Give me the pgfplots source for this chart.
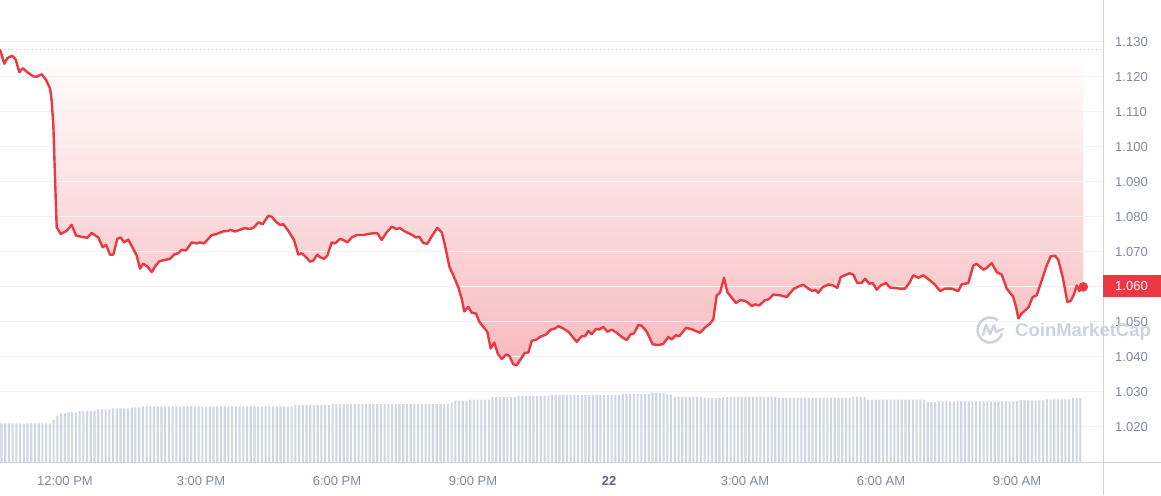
\documentclass[border=0pt]{standalone}
\usepackage{fontspec}
\setmainfont{Liberation Sans}
\usepackage{pgfplots}
\pgfplotsset{compat=1.18}
\usepackage{pgfplotstable}

\definecolor{cmcred}{RGB}{234,57,67}
\definecolor{cmcgray}{RGB}{128,138,157}
\definecolor{cmcdark}{RGB}{88,102,126}
\definecolor{volbar}{RGB}{207,214,228}
\definecolor{gridc}{RGB}{243,243,246}
\definecolor{axisc}{RGB}{207,210,216}
\definecolor{fillbot}{RGB}{247,186,190}
\definecolor{wmark}{RGB}{205,210,221}

% price, x = position along the 24h window (px of the original), y = price
\pgfplotstableread{
x y
0 1.1278
4.3 1.1237
7.3 1.1253
12.3 1.1260
15.7 1.1249
19.3 1.1213
22.7 1.1224
27.3 1.1213
33.3 1.1201
36.7 1.1200
41.7 1.1207
46 1.1191
50 1.1167
51.7 1.1130
53.3 1.1064
55 1.0912
56.7 1.0770
60.7 1.0751
66.7 1.0760
71.7 1.0777
76 1.0746
87.3 1.0740
91.7 1.0754
98.3 1.0741
102.7 1.0713
106 1.0720
110 1.0692
113.3 1.0692
117.3 1.0737
120.7 1.0741
124 1.0727
128.3 1.0735
133.3 1.0708
136.7 1.0689
140 1.0652
143.3 1.0666
147.3 1.0658
151.7 1.0642
155 1.0658
159.3 1.0673
165 1.0677
170 1.0680
174 1.0692
178.3 1.0696
181.7 1.0706
186 1.0704
191.7 1.0727
196.7 1.0724
200 1.0727
204 1.0724
208.3 1.0737
211.7 1.0748
216.7 1.0751
222.7 1.0758
228.3 1.0760
230.7 1.0763
235 1.0758
240 1.0763
245 1.0768
250 1.0765
254 1.0770
258.3 1.0784
262.7 1.0779
268.3 1.0803
271.7 1.0800
276.7 1.0784
280 1.0777
283.3 1.0779
288.3 1.0760
294 1.0734
298.3 1.0692
301.7 1.0696
306 1.0685
310 1.0672
313.3 1.0675
317.3 1.0692
320 1.0685
324 1.0680
327.3 1.0689
331.7 1.0727
335 1.0724
340 1.0737
343.3 1.0734
347.3 1.0727
351.7 1.0741
356.7 1.0748
363.3 1.0748
368.3 1.0751
373.3 1.0753
377.3 1.0753
381.7 1.0734
386 1.0753
391.7 1.0772
396.7 1.0765
400 1.0768
405 1.0758
411.7 1.0749
416 1.0741
419.3 1.0743
423.3 1.0725
427.3 1.0723
433 1.0750
437.3 1.0768
441.7 1.0756
445 1.0718
449.3 1.0658
453.3 1.0633
458.3 1.0599
461.7 1.0566
464.3 1.0530
468.3 1.0543
471.7 1.0526
476 1.0524
479.3 1.0500
483.3 1.0486
487.3 1.0472
490.7 1.0424
494.3 1.0441
497.7 1.0410
501.7 1.0394
506 1.0407
509.3 1.0403
513.3 1.0379
516.7 1.0376
520.7 1.0394
525 1.0412
528.3 1.0412
531.7 1.0446
536.7 1.0450
540 1.0457
546 1.0464
550.7 1.0478
555 1.0481
558.3 1.0488
563.3 1.0481
568.3 1.0472
572.7 1.0457
576.7 1.0443
581.7 1.0459
585 1.0459
588.3 1.0474
591.7 1.0465
596 1.0480
599.3 1.0478
603.3 1.0486
607.3 1.0472
611.7 1.0478
616.7 1.0469
621.7 1.0457
626.7 1.0448
630.7 1.0465
634 1.0467
638.3 1.0491
641.7 1.0489
646.7 1.0472
652.7 1.0436
658.3 1.0434
663.3 1.0437
668.3 1.0457
671.7 1.0450
676 1.0462
679.3 1.0459
686 1.0483
691.7 1.0479
700 1.0469
705 1.0484
710 1.0495
713.3 1.0507
716.7 1.0576
720 1.0583
724 1.0626
727.3 1.0585
730.7 1.0573
736 1.0554
740 1.0562
745 1.0560
748.3 1.0554
751.7 1.0545
755 1.0550
759.3 1.0547
765 1.0562
768.3 1.0564
773.3 1.0578
780 1.0576
786.7 1.0571
794 1.0595
799.3 1.0602
803.3 1.0606
808.3 1.0595
812.7 1.0588
815 1.0592
818.3 1.0583
822.7 1.0599
828.3 1.0607
833.3 1.0604
837.3 1.0597
840.7 1.0628
845 1.0633
849.3 1.0639
853.3 1.0635
857.3 1.0611
861.7 1.0612
865 1.0623
869.3 1.0609
872.7 1.0611
876.7 1.0592
880.7 1.0604
886 1.0611
890 1.0598
895 1.0597
900 1.0595
905 1.0595
909.3 1.0611
913.3 1.0633
918.3 1.0626
923.3 1.0633
930 1.0618
935 1.0606
940 1.0588
945 1.0595
951.7 1.0595
958.3 1.0588
961.7 1.0607
968.3 1.0611
973.3 1.0661
976.7 1.0666
983.3 1.0649
986.7 1.0654
991.7 1.0668
996.7 1.0642
1001.7 1.0635
1006.7 1.0595
1013.3 1.0571
1016 1.0543
1018.3 1.0510
1021.7 1.0524
1028.3 1.0541
1032.7 1.0571
1036.7 1.0576
1041.7 1.0618
1046.7 1.0661
1050.7 1.0687
1055 1.0689
1058.3 1.0677
1062.7 1.0628
1067.3 1.0557
1070.7 1.0560
1074 1.0579
1076.7 1.0604
1079.3 1.0588
1083.3 1.0600
}\price

% volume bars, one per time bin (arbitrary units)
\pgfplotstableread[row sep=\\]{
vol\\
38.7\\38.5\\38.7\\38.7\\38.5\\38.7\\38.2\\38.7\\38.7\\38.5\\38.7\\38.7\\38.5\\38.7\\
42\\46\\48.7\\48.7\\49.7\\49.7\\49.7\\
51\\51\\51\\51\\51\\52.7\\52.7\\52.7\\52.7\\
53.7\\53.7\\53.7\\53.7\\53.7\\54.7\\54.7\\54.7\\
55.7\\55.7\\55.7\\55.7\\55.7\\55.7\\55.7\\55.7\\55.7\\55.7\\
55.7\\55.7\\55.7\\55.7\\55.7\\55.7\\55.7\\55.7\\55.7\\55.7\\
55.7\\55.7\\55.7\\55.7\\55.7\\55.7\\55.7\\55.7\\55.7\\55.7\\
55.7\\55.7\\55.7\\55.7\\55.7\\55.7\\55.7\\55.7\\55.7\\55.7\\55.7\\
56.8\\56.8\\56.8\\56.8\\56.8\\56.8\\56.8\\56.8\\56.8\\56.8\\
57.8\\57.8\\57.8\\57.8\\57.8\\57.8\\57.8\\57.8\\
57.8\\57.8\\57.8\\57.8\\57.8\\57.8\\57.8\\57.8\\
57.8\\57.8\\57.8\\57.8\\57.8\\57.8\\57.8\\57.8\\
57.8\\57.8\\57.8\\57.8\\57.8\\57.8\\57.8\\57.8\\
59.2\\61.3\\61.3\\61.3\\61.3\\
62.4\\62.4\\62.4\\62.4\\62.4\\62.4\\
64.8\\64.8\\64.8\\64.8\\64.8\\64.8\\64.8\\
66.2\\66.2\\66.2\\66.2\\66.2\\66.2\\66.2\\66.2\\66.2\\
66.9\\66.9\\66.9\\66.9\\66.9\\66.9\\66.9\\66.9\\66.9\\66.9\\
66.9\\66.9\\66.9\\66.9\\66.9\\66.9\\66.9\\66.9\\66.9\\
68\\68\\68\\68\\68\\68\\68\\68\\
69.4\\69.4\\69.4\\69.4\\67.6\\67.6\\
65.2\\65.2\\65.2\\65.2\\65.2\\65.2\\65.2\\65.2\\
63.8\\63.8\\63.8\\63.8\\63.8\\
65.2\\65.2\\65.2\\65.2\\65.2\\65.2\\65.2\\65.2\\65.2\\65.2\\65.2\\65.2\\65.2\\65.2\\65.2\\
64.1\\64.1\\64.1\\64.1\\64.1\\64.1\\64.1\\64.1\\64.1\\64.1\\
64.1\\64.1\\64.1\\64.1\\64.1\\64.1\\64.1\\64.1\\64.1\\64.1\\
65.2\\65.2\\65.2\\65.2\\
62.4\\62.4\\62.4\\62.4\\62.4\\62.4\\62.4\\62.4\\
62.4\\62.4\\62.4\\62.4\\62.4\\62.4\\62.4\\62.4\\
59.9\\59.9\\59.9\\
60.6\\60.6\\60.6\\60.6\\60.6\\60.6\\60.6\\60.6\\60.6\\60.6\\60.6\\
60.6\\60.6\\60.6\\60.6\\60.6\\60.6\\60.6\\60.6\\60.6\\60.6\\60.6\\
61.7\\61.7\\61.7\\61.7\\61.7\\61.7\\61.7\\
62.7\\62.7\\62.7\\62.7\\62.7\\62.7\\62.7\\
64.1\\64.1\\64.1\\
}\volume

\pgfplotsset{cmcbase/.style={width=1103pt, height=462pt, scale only axis,
  xmin=0, xmax=1103, at={(0,0)}, anchor=south west}}

\begin{document}
\begin{tikzpicture}
% gradient area between price and the opening price (1.1278)
\begin{axis}[cmcbase, ymin=1.0100, ymax=1.1419, hide axis]
\addplot[draw=none, top color=white, bottom color=fillbot] table[x=x, y=y] {\price}
  -- (axis cs:1083.3,1.1278) -- (axis cs:0,1.1278) -- cycle;
\end{axis}

% grid, labels and the price line
\begin{axis}[cmcbase, ymin=1.0100, ymax=1.1419, clip=false,
  axis line style={draw=none}, major tick length=0pt,
  ytick={1.02,1.03,1.04,1.05,1.06,1.07,1.08,1.09,1.10,1.11,1.12,1.13},
  ymajorgrids, grid style={gridc, line width=1pt},
  yticklabel pos=right,
  yticklabel style={anchor=west, inner sep=0pt, xshift=12pt},
  xtick={65,201,337,473,609,745,881,1017},
  xticklabels={12:00 PM,3:00 PM,6:00 PM,9:00 PM,\textcolor{cmcdark}{\bfseries 22},3:00 AM,6:00 AM,9:00 AM},
  xticklabel style={anchor=center, inner sep=0pt, yshift=-19pt},
  tick label style={font=\fontsize{13}{15}\selectfont, text=cmcgray},
  /pgf/number format/.cd, fixed, fixed zerofill, precision=3, assume math mode=true]
\addplot[gray!45, line width=0.8pt, dash pattern=on 1pt off 3pt] coordinates {(0,1.1278) (1101,1.1278)};
\addplot[cmcred, line width=2.4pt, line join=round] table[x=x, y=y] {\price};
\addplot[only marks, mark=*, mark size=4.5pt, cmcred] coordinates {(1083.3,1.0600)};
% watermark
\begin{scope}[shift={(axis cs:990,1.0477)}]
\draw[wmark, line width=2.6pt] (50:12.5pt) arc[start angle=50, end angle=345, radius=12.5pt];
\draw[wmark, line width=2.4pt, line cap=round, line join=round]
  (-7pt,-5pt) -- (-4pt,5pt) -- (0pt,-4pt) -- (4pt,5pt) -- (6pt,-2pt) -- (13pt,1pt);
\end{scope}
\node[anchor=west, inner sep=0pt, text=wmark, font=\fontsize{18.5}{20}\selectfont\bfseries]
  at (axis cs:1015,1.0472) {CoinMarketCap};
\end{axis}

% volume
\begin{axis}[cmcbase, ymin=0, ymax=462, hide axis]
\addplot[ybar, bar width=2.1, fill=volbar, draw=none]
  table[x expr=1.5+3.72*\coordindex, y=vol] {\volume};
\end{axis}

% axis lines and last-price tag
\draw[axisc, line width=1pt] (0,0) -- (1161pt,0);
\draw[axisc, line width=1pt] (1103pt,-33pt) -- (1103pt,462pt);
\fill[cmcred] (1103pt,164.8pt) rectangle (1161pt,186.8pt);
\node[anchor=west, inner sep=0pt, text=white, font=\fontsize{13}{15}\selectfont]
  at (1115pt,175.8pt) {1.060};

\pgfresetboundingbox
\useasboundingbox (0,-33pt) rectangle (1161pt,462pt);
\end{tikzpicture}
\end{document}
